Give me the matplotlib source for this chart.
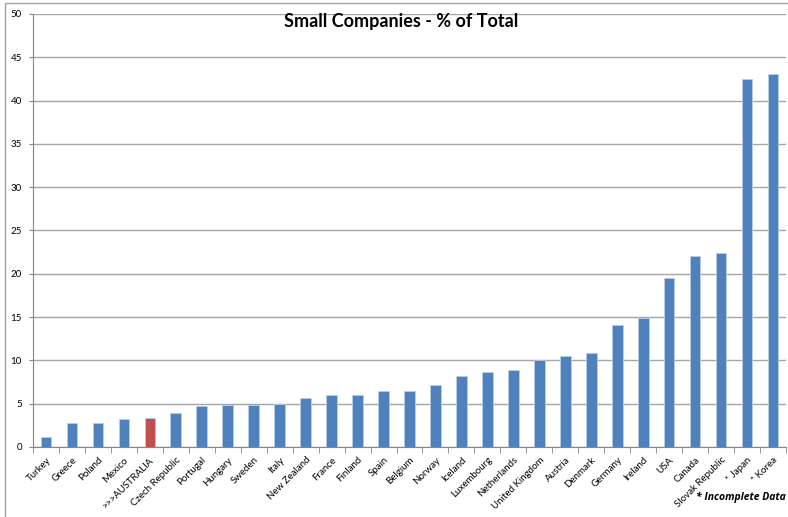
import matplotlib
matplotlib.use('Agg')
import matplotlib.pyplot as plt
from matplotlib.patches import Rectangle

countries = ['Turkey', 'Greece', 'Poland', 'Mexico', '>>>AUSTRALIA', 'Czech Republic',
             'Portugal', 'Hungary', 'Sweden', 'Italy', 'New Zealand', 'France', 'Finland',
             'Spain', 'Belgium', 'Norway', 'Iceland', 'Luxembourg', 'Netherlands',
             'United Kingdom', 'Austria', 'Denmark', 'Germany', 'Ireland', 'USA', 'Canada',
             'Slovak Republic', '* Japan', '* Korea']
values = [1.2, 2.8, 2.8, 3.2, 3.3, 3.9, 4.7, 4.8, 4.9, 5.0, 5.7, 6.0, 6.0, 6.5, 6.5,
          7.2, 8.2, 8.7, 8.9, 10.1, 10.5, 10.8, 14.1, 14.9, 19.5, 22.0, 22.4, 42.5, 43.1]
highlight = '>>>AUSTRALIA'

plt.rcParams['font.family'] = ['Lato', 'DejaVu Sans']

fig = plt.figure(figsize=(7.88, 5.17), dpi=100)
ax = fig.add_axes((33 / 788, 1 - 447 / 517, (786 - 33) / 788, (447 - 14) / 517))

colors = ['#C0504D' if c == highlight else '#4F81BD' for c in countries]
x = range(len(countries))
ax.bar(x, values, width=0.41, color=colors, edgecolor='#B9CDE5', linewidth=0.6, zorder=3)

ax.set_xlim(-0.5, len(countries) - 0.5)
ax.set_ylim(0, 50)
ax.set_yticks(range(0, 51, 5))
ax.tick_params(axis='y', labelsize=7, length=3, color='#868686', pad=5)
ax.yaxis.grid(True, color='#A6A6A6', linewidth=1, zorder=0)

ax.set_xticks(list(x))
ax.set_xticklabels(countries, rotation=45, ha='right', rotation_mode='anchor', fontsize=7)
ax.tick_params(axis='x', length=0, pad=6)
ax.set_xticks([i + 0.5 for i in range(-1, len(countries))], minor=True)
ax.tick_params(axis='x', which='minor', length=4, color='#868686')

for s in ['top', 'right']:
    ax.spines[s].set_visible(False)
for s in ['left', 'bottom']:
    ax.spines[s].set_color('#868686')

fig.text(401 / 788, 1 - 22 / 517, 'Small Companies - % of Total', fontsize=13,
         fontweight='bold', ha='center', va='center')

fig.text(786 / 788, 1 - 497 / 517, '* Incomplete Data', fontsize=7.5, fontweight='bold',
         style='italic', va='center', ha='right', family=['Open Sans', 'DejaVu Sans'])

# outer chart border
fig.patches.append(Rectangle((5 / 788, -0.1), 1, 1 - 3 / 517 + 0.1, transform=fig.transFigure,
                             fill=False, edgecolor='#A0A0A0', linewidth=1))

fig.savefig('out.png', dpi=100)
